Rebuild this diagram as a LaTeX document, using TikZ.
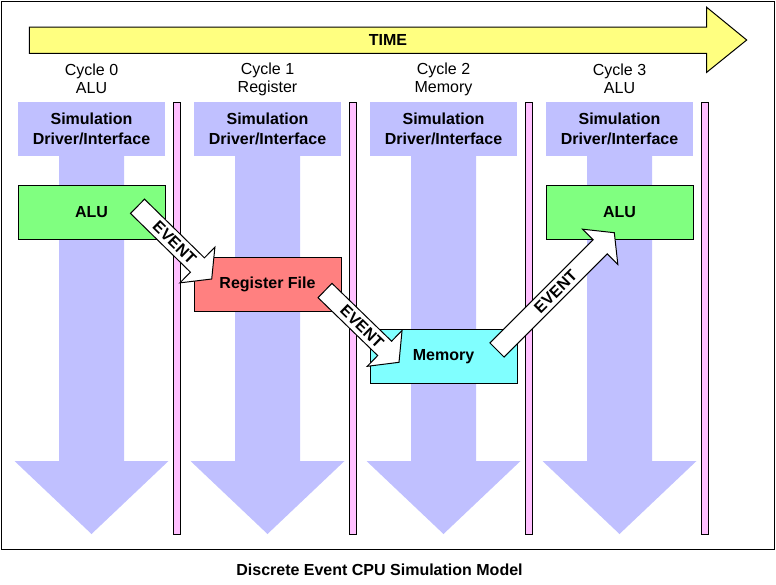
\documentclass[tikz,border=0pt]{standalone}
\usepackage{fontspec}
\setmainfont{Liberation Sans}
\usetikzlibrary{calc}

\definecolor{lane}{HTML}{C0C0FF}
\definecolor{alugreen}{HTML}{80FF80}
\definecolor{regred}{HTML}{FF8080}
\definecolor{memcyan}{HTML}{80FFFF}
\definecolor{timeyellow}{HTML}{FFFF80}
\definecolor{barpink}{HTML}{FFC0FF}

% block arrow from #1 (tail) to #2 (tip)
\newcommand{\eventarrow}[2]{%
  \coordinate (#1h) at ($(#2)!20pt!(#1)$);
  \draw[eventarrow] ($(#1)!10pt!90:(#2)$) -- ($(#1h)!10pt!90:(#2)$)
    -- ($(#1h)!25pt!90:(#2)$) -- (#2) -- ($(#1h)!25pt!-90:(#2)$)
    -- ($(#1h)!10pt!-90:(#2)$) -- ($(#1)!10pt!-90:(#2)$) -- cycle;
  \path (#1) -- (#2) node[midway, sloped, evtext] (#1t) {EVENT};
}

\begin{document}
\begin{tikzpicture}[x=1pt,y=-1pt,
  every node/.style={font=\fontsize{16}{18}\selectfont, inner sep=0pt},
  drvbox/.style={fill=lane, minimum width=147pt, minimum height=54pt,
    align=center, font=\fontsize{16}{20}\selectfont\bfseries},
  unitbox/.style={draw, line width=1pt, minimum width=147pt, minimum height=54pt,
    font=\fontsize{16}{19}\selectfont\bfseries},
  cyclabel/.style={align=center},
  pinkbar/.style={draw, fill=barpink, line width=1pt},
  eventarrow/.style={draw, fill=white, line width=1pt, line join=miter},
  evtext/.style={font=\fontsize{16}{19}\selectfont\bfseries}]

\useasboundingbox (0,0) rectangle (776,584);

% frame

\draw[line width=1pt] (1.5,1.5) rectangle (774.5,549);

% time

\draw[line width=1pt, fill=timeyellow] (29.3,27) -- (706.7,27) -- (706.7,7.3)
  -- (746.7,40) -- (706.7,72.3) -- (706.7,53.3) -- (29.3,53.3) -- cycle;
\node[font=\fontsize{16}{19}\selectfont\bfseries] (time) at (388,40) {TIME};

% cycles

\node[cyclabel] (cyc0) at (91.5,79) {Cycle 0\\ALU};
\node[cyclabel] (cyc1) at (91.5+176,79) {Cycle 1\\Register};
\node[cyclabel] (cyc2) at (91.5+352,79) {Cycle 2\\Memory};
\node[cyclabel] (cyc3) at (91.5+528,79) {Cycle 3\\ALU};

% lanes
    % 0
\fill[lane] (59,156) -- (124,156) -- (124,461) -- (168.5,461)
  -- (91.5,534) -- (14.5,461) -- (59,461) -- cycle;
    % 1
\fill[lane] (59+176,156) -- (124+176,156) -- (124+176,461) -- (168.5+176,461)
  -- (91.5+176,534) -- (14.5+176,461) -- (59+176,461) -- cycle;
    % 2
\fill[lane] (59+352,156) -- (124+352,156) -- (124+352,461) -- (168.5+352,461)
  -- (91.5+352,534) -- (14.5+352,461) -- (59+352,461) -- cycle;
    % 3
\fill[lane] (59+528,156) -- (124+528,156) -- (124+528,461) -- (168.5+528,461)
  -- (91.5+528,534) -- (14.5+528,461) -- (59+528,461) -- cycle;

% drivers

\node[drvbox] (drv0) at (91.5,129) {Simulation\\Driver/Interface};
\node[drvbox] (drv1) at (91.5+176,129) {Simulation\\Driver/Interface};
\node[drvbox] (drv2) at (91.5+352,129) {Simulation\\Driver/Interface};
\node[drvbox] (drv3) at (91.5+528,129) {Simulation\\Driver/Interface};

% bars

\draw[pinkbar] (173.7,102) rectangle (180.3,534);
\draw[pinkbar] (173.7+176,102) rectangle (180.3+176,534);
\draw[pinkbar] (173.7+352,102) rectangle (180.3+352,534);
\draw[pinkbar] (173.7+528,102) rectangle (180.3+528,534);

% units

\node[unitbox, fill=alugreen] (alu0) at (91.5,212) {ALU};
\node[unitbox, fill=regred] (reg1) at (267.5,284) {Register File};
\node[unitbox, fill=memcyan] (mem2) at (443.5,356.5) {Memory};
\node[unitbox, fill=alugreen] (alu3) at (619.5,212) {ALU};

% events

\coordinate (e1a) at (137.5,206.3);
\coordinate (e1b) at (211.7,279);
\coordinate (e2a) at (325,290.5);
\coordinate (e2b) at (399,362.3);
\coordinate (e3a) at (497,350);
\coordinate (e3b) at (614.3,232.7);

\eventarrow{e1a}{e1b}
\eventarrow{e2a}{e2b}
\eventarrow{e3a}{e3b}

% title

\node[font=\fontsize{16}{19}\selectfont\bfseries] (title) at (379.5,570)
  {Discrete Event CPU Simulation Model};
\end{tikzpicture}
\end{document}
